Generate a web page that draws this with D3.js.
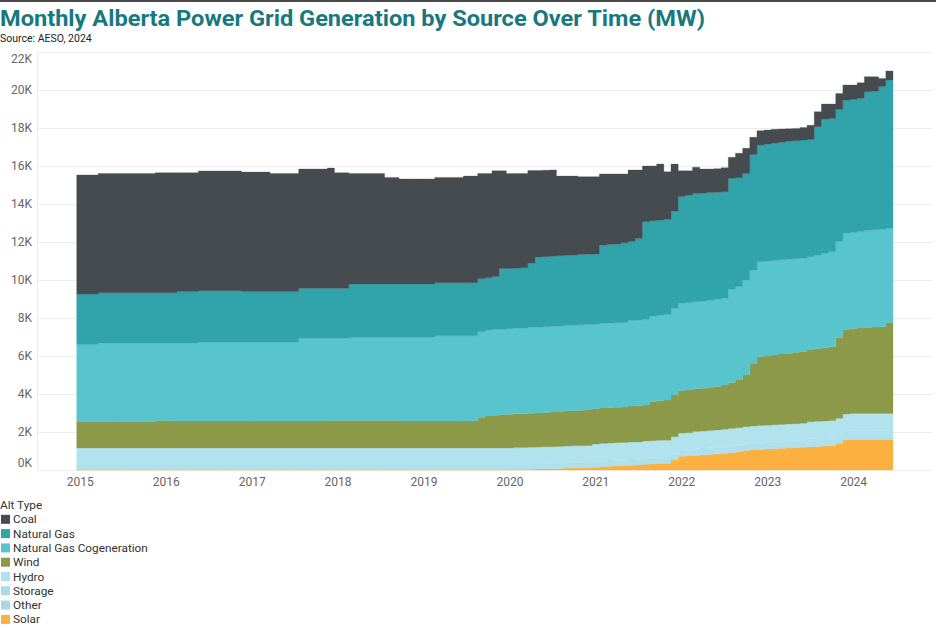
<!DOCTYPE html>
<html><head><meta charset="utf-8">
<script src="https://cdn.jsdelivr.net/npm/d3@7"></script>
<style>
body{margin:0;background:#fff;}
svg{display:block;font-family:Roboto,"Noto Sans",sans-serif;}
</style>
</head><body>
<svg id="chart" width="936" height="628"></svg>
<script>
// ---------- DATA (MW) ----------
const legendNames = ["Coal","Natural Gas","Natural Gas Cogeneration","Wind","Hydro","Storage","Other","Solar"];
const stackOrder = ["Solar","Other","Storage","Hydro","Wind","Natural Gas Cogeneration","Natural Gas","Coal"];
const colors = ["#464b50","#31a3ab","#58c5ce","#8b9949","#b1e3ee","#afe1ed","#aee0ed","#fbb040"];
const yTicks = [0,2000,4000,6000,8000,10000,12000,14000,16000,18000,20000,22000];
const yTickLabels = ["0K","2K","4K","6K","8K","10K","12K","14K","16K","18K","20K","22K"];
const yearLabels = ["2015","2016","2017","2018","2019","2020","2021","2022","2023","2024"];

const coal = [
 6270,6270,6270,6280,6280,6280,6280,6280,6280,6280,6280,6320,
 6320,6320,6260,6260,6260,6300,6300,6300,6300,6300,6300,6290,
 6290,6290,6290,6220,6220,6220,6220,6280,6280,6280,6280,6330,
 6090,6090,5820,5820,5820,5820,5820,5610,5610,5530,5530,5530,
 5530,5530,5540,5540,5540,5540,5610,5610,5540,5490,5570,5140,
 5000,4980,4960,4870,4560,4550,4540,4190,4170,4150,4100,4080,
 4070,3740,3710,3680,3620,3770,3610,2930,2880,2940,2510,2470,
 1360,1280,1380,1260,1240,1240,1260,1110,1290,1320,900,760,
 740,730,700,660,650,650,740,790,800,760,840,790,
 760,820,790,750,430,470];
const naturalGas = [
 2660,2660,2660,2660,2660,2660,2660,2660,2660,2660,2660,2660,
 2660,2660,2720,2720,2720,2700,2700,2700,2700,2700,2700,2650,
 2650,2650,2650,2650,2650,2650,2650,2630,2630,2630,2630,2630,
 2630,2630,2810,2810,2810,2810,2810,2810,2810,2810,2810,2810,
 2810,2810,2790,2790,2790,2790,2790,2790,2790,2750,2780,3190,
 3170,3170,3170,3380,3690,3690,3690,3700,3700,3700,3700,3700,
 3690,4130,4140,4150,4200,4150,4300,5150,5020,5020,5010,5120,
 5620,5670,5690,5680,5650,5620,5610,5830,5720,5610,6080,6140,
 6150,6170,6190,6210,6210,6230,6170,6770,7060,7010,6960,7010,
 7000,7010,7310,7300,7500,7810];
const cogeneration = [
 4070,4070,4070,4140,4140,4140,4140,4140,4140,4140,4140,4060,
 4060,4090,4090,4090,4090,4160,4160,4160,4160,4160,4160,4160,
 4160,4160,4160,4160,4160,4160,4160,4350,4350,4350,4350,4320,
 4320,4320,4370,4370,4370,4370,4370,4370,4370,4400,4400,4400,
 4400,4400,4490,4490,4490,4490,4490,4490,4510,4530,4520,4500,
 4500,4500,4500,4520,4510,4520,4510,4500,4500,4500,4500,4500,
 4450,4450,4450,4450,4450,4500,4500,4500,4500,4500,4500,4560,
 4590,4590,4590,4600,4600,4600,4570,4920,4920,5000,4950,5000,
 5000,4980,4960,4940,4920,4910,4910,4920,4970,5000,5040,5060,
 5050,5070,5100,5130,5140,4970];
const wind = [
 1370,1370,1370,1370,1370,1370,1370,1370,1370,1370,1370,1450,
 1450,1420,1420,1420,1420,1420,1420,1420,1420,1420,1420,1420,
 1420,1420,1420,1420,1420,1420,1420,1420,1420,1420,1420,1450,
 1450,1450,1450,1450,1450,1450,1450,1450,1450,1420,1420,1420,
 1420,1420,1420,1420,1420,1420,1420,1420,1610,1680,1720,1760,
 1780,1780,1790,1790,1790,1800,1820,1840,1840,1850,1860,1870,
 1860,1860,1860,1860,1860,1900,1900,1900,2060,2080,2110,2200,
 2240,2250,2250,2250,2270,2290,2330,2420,2520,2720,3270,3620,
 3640,3670,3700,3730,3760,3770,3780,3820,3850,3890,4260,4450,
 4470,4500,4520,4540,4560,4770];
const hydro = [
 890,890,890,890,890,890,890,890,890,890,890,890,
 890,890,890,890,890,890,890,890,890,890,890,890,
 890,890,890,890,890,890,890,890,890,890,890,890,
 890,890,890,890,890,890,890,890,890,890,890,890,
 890,890,890,890,890,890,890,890,890,890,890,890,
 890,890,890,890,890,890,890,890,890,890,890,890,
 890,890,890,890,890,890,890,890,890,890,890,890,
 890,890,890,890,890,890,890,890,890,890,890,890,
 890,890,890,890,890,890,890,890,890,890,890,890,
 890,890,890,890,890,890];
const storage = [
 0,0,0,0,0,0,0,0,0,0,0,0,
 0,0,0,0,0,0,0,0,0,0,0,0,
 0,0,0,0,0,0,0,0,0,0,0,0,
 0,0,0,0,0,0,0,0,0,0,0,0,
 0,0,0,0,0,0,0,0,0,0,0,0,
 0,0,0,0,0,0,0,0,0,0,0,0,
 50,50,50,50,50,50,50,50,50,50,50,50,
 50,50,50,50,50,50,50,50,50,50,50,50,
 50,50,50,50,50,50,110,110,110,110,110,160,
 160,160,160,160,160,160];
const other = [
 270,270,270,270,270,270,270,270,270,270,270,270,
 270,270,270,270,270,270,270,270,270,270,270,270,
 270,270,270,270,270,270,270,270,270,270,270,270,
 270,270,270,270,270,270,270,270,270,270,270,270,
 270,270,270,270,270,270,270,270,270,270,270,270,
 270,270,270,270,270,270,270,270,270,270,270,270,
 280,280,280,280,280,280,280,280,280,280,280,280,
 280,280,320,320,320,320,320,320,320,320,320,320,
 320,320,320,320,320,320,320,320,320,320,320,320,
 320,320,320,320,320,320];
const solar = [
 0,0,0,0,0,0,0,0,0,0,0,0,
 0,0,0,0,0,0,0,0,0,0,0,0,
 0,0,0,0,0,0,0,0,0,0,0,0,
 0,0,0,0,0,0,0,0,0,0,0,0,
 0,0,0,0,0,0,0,0,0,0,0,0,
 0,20,30,40,50,60,70,80,100,110,120,130,
 150,180,200,220,230,250,260,300,320,340,350,530,
 720,740,760,790,820,850,880,920,960,1020,1050,1080,
 1100,1120,1140,1160,1180,1200,1220,1240,1260,1280,1400,1580,
 1610,1610,1610,1610,1610,1610];

// legend swatch shades (as shown in the legend)
const legendColors = ["#464b50","#31a3ab","#58c5ce","#8b9949","#b0e2ee","#aadbe9","#a8d7ea","#fbb040"];

// ---------- BUILD ----------
const months = d3.timeMonths(new Date(2015,0,1), new Date(2024,6,1));
const valuesByName = {
  "Coal": coal, "Natural Gas": naturalGas, "Natural Gas Cogeneration": cogeneration,
  "Wind": wind, "Hydro": hydro, "Storage": storage, "Other": other, "Solar": solar
};
const colorOf = d3.scaleOrdinal().domain(legendNames).range(colors);
const legendColorOf = d3.scaleOrdinal().domain(legendNames).range(legendColors);
const table = months.map((m,i) => {
  const row = {month: m};
  legendNames.forEach(n => row[n] = valuesByName[n][i]);
  return row;
});

const svg = d3.select("#chart");
const W = 936, H = 628;

// top border
svg.append("rect").attr("x",0).attr("y",0).attr("width",W).attr("height",2).attr("fill","#4a4a4a");

// title
svg.append("text").attr("x",0).attr("y",26)
  .attr("font-size",22).attr("font-weight",700).attr("fill","#17797d")
  .attr("textLength",705).attr("lengthAdjust","spacingAndGlyphs")
  .text("Monthly Alberta Power Grid Generation by Source Over Time (MW)");
svg.append("text").attr("x",0).attr("y",42)
  .attr("font-size",10.5).attr("fill","#222")
  .text("Source: AESO, 2024");

const x = d3.scaleBand().domain(months).range([76.7, 893]).padding(0);
const y = d3.scaleLinear().domain([0, 22000]).range([470, 52]);

// gridlines
const grid = svg.append("g");
grid.selectAll("line.h").data(yTicks).join("line")
  .attr("x1",37).attr("x2",932)
  .attr("y1",d=>y(d)+0.5).attr("y2",d=>y(d)+0.5)
  .attr("stroke","#ececec").attr("stroke-width",1);
grid.append("line").attr("x1",37.5).attr("x2",37.5).attr("y1",y(22000)).attr("y2",y(0))
  .attr("stroke","#ececec");

// stacked step areas
const stack = d3.stack().keys(stackOrder);
const layers = stack(table);
const area = d3.area().x(p=>p.x).y0(p=>y(p.y0)).y1(p=>y(p.y1)).curve(d3.curveStepAfter);
svg.append("g").selectAll("path").data(layers).join("path")
  .attr("fill", L => colorOf(L.key))
  .attr("stroke", L => colorOf(L.key)).attr("stroke-width",0.3)
  .attr("d", L => {
    const pts = L.map(d => ({x: x(d.data.month), y0: d[0], y1: d[1]}));
    const last = L[L.length-1];
    pts.push({x: x(last.data.month) + x.bandwidth(), y0: last[0], y1: last[1]});
    return area(pts);
  });

// x axis
const janMonths = months.filter(m => m.getMonth() === 0);
const xAxis = svg.append("g").attr("transform","translate(0,470)")
  .call(d3.axisBottom(x).tickValues(janMonths).tickFormat((d,i)=>yearLabels[i]).tickSize(0).tickPadding(7));
xAxis.select(".domain").remove();
xAxis.selectAll("text").attr("font-size",12).attr("fill","#666").attr("font-family","Roboto,sans-serif");

// y axis
const yAxis = svg.append("g").attr("transform","translate(37,0)")
  .call(d3.axisLeft(y).tickValues(yTicks).tickFormat((d,i)=>yTickLabels[i]).tickSize(0).tickPadding(5));
yAxis.select(".domain").remove();
yAxis.selectAll("text").attr("font-size",12).attr("fill","#666").attr("font-family","Roboto,sans-serif")
  .attr("transform", d => d === 0 ? "translate(0,-7)" : (d === 22000 ? "translate(0,7)" : null));

// legend
const lg = svg.append("g").attr("font-size",11.8).attr("fill","#333");
lg.append("text").attr("x",0).attr("y",509).text("Alt Type");
const items = lg.selectAll("g.item").data(legendNames).join("g")
  .attr("transform",(d,i)=>`translate(0,${519.3 + i*14.3})`);
items.append("rect").attr("x",1).attr("y",-4.5).attr("width",9).attr("height",9).attr("fill",d=>legendColorOf(d));
items.append("text").attr("x",13).attr("y",4).text(d=>d);
</script>
</body></html>
